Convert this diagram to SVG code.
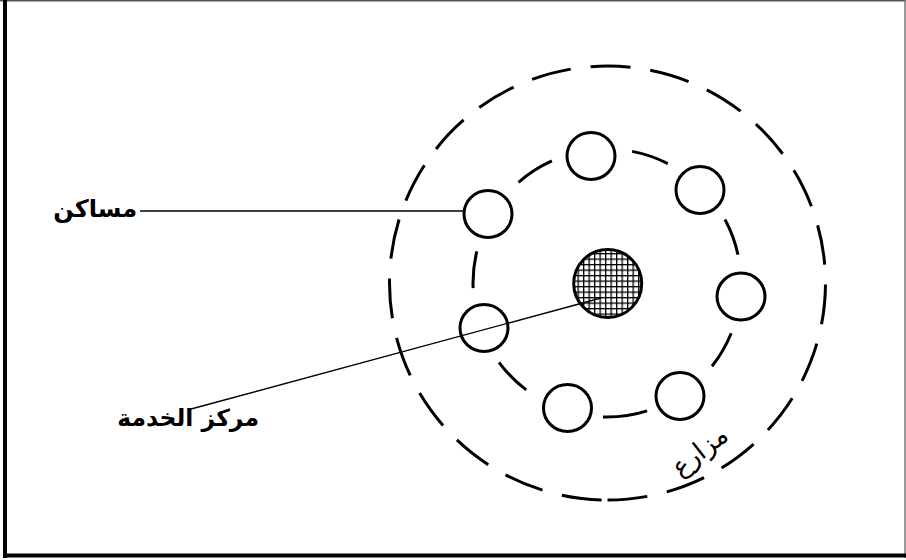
<svg xmlns="http://www.w3.org/2000/svg" width="906" height="560" viewBox="0 0 906 560">
  <style>
    .ring { fill: none; stroke: #000; stroke-width: 3; }
    .house { fill: #fff; stroke: #000; stroke-width: 3; }
    .lead { fill: none; stroke: #000; stroke-width: 1.4; }
    .lbl { font-family: "DejaVu Sans", "Noto Sans", sans-serif; fill: #000; }
  </style>
  <defs>
    <pattern id="hatch" patternUnits="userSpaceOnUse" x="0" y="0" width="5.5" height="5.5">
      <rect width="5.5" height="5.5" fill="#fff"/>
      <rect x="0" y="0" width="1.3" height="5.5" fill="#000"/>
      <rect x="0" y="0" width="5.5" height="1.3" fill="#000"/>
    </pattern>
  </defs>
  <rect width="906" height="560" fill="#fff"/>
  <g id="frame">
    <line x1="0" y1="0.8" x2="906" y2="0.8" stroke="#555" stroke-width="1.6"/>
    <line x1="905" y1="0" x2="905" y2="558" stroke="#777" stroke-width="1.5"/>
    <line x1="5" y1="0" x2="5" y2="558" stroke="#000" stroke-width="4"/>
    <line x1="3" y1="555.5" x2="906" y2="555.5" stroke="#000" stroke-width="4"/>
  </g>
  <g id="farms-ring">
    <path class="ring" stroke-dasharray="40 20" d="M607.5 500 A218 217 0 0 0 607.5 66 A218 217 0 0 0 607.5 500"/>
  </g>
  <g id="houses-ring">
    <path class="ring" d="M518.5 182.3 A134 134 0 0 1 551.9 160.9 M632.1 151.4 A134 134 0 0 1 667.8 163.6 M725 219.5 A134 134 0 0 1 738 254.7 M731.2 333.2 A134 134 0 0 1 712 366.2 M647.1 410.9 A134 134 0 0 1 603 417 M526.2 389.9 A134 134 0 0 1 499 362.3 M473.1 288.1 A134 134 0 0 1 476.8 251.3"/>
  </g>
  <g id="service-center">
    <circle cx="607.7" cy="283.5" r="34" fill="url(#hatch)" stroke="#000" stroke-width="3"/>
  </g>
  <g id="houses">
    <ellipse id="house-1" class="house" cx="591" cy="156" rx="24" ry="23.5"/>
    <ellipse id="house-2" class="house" cx="700" cy="190" rx="24" ry="23.5"/>
    <ellipse id="house-3" class="house" cx="488" cy="214" rx="24" ry="23.5"/>
    <ellipse id="house-4" class="house" cx="741" cy="296.5" rx="24" ry="23.5"/>
    <ellipse id="house-5" class="house" cx="484" cy="328" rx="24" ry="23.5"/>
    <ellipse id="house-6" class="house" cx="680" cy="396" rx="24" ry="23.5"/>
    <ellipse id="house-7" class="house" cx="567.5" cy="408" rx="24" ry="23.5"/>
  </g>
  <g id="connectors">
    <line class="lead" x1="140" y1="211" x2="464" y2="211"/>
    <line class="lead" x1="601" y1="298" x2="191" y2="409"/>
  </g>
  <g id="label-houses">
    <text class="lbl" x="137" y="217" font-size="24" font-weight="bold" text-anchor="end">مساكن</text>
  </g>
  <g id="label-center">
    <text class="lbl" x="259" y="426" font-size="23.5" font-weight="bold" text-anchor="end">مركز الخدمة</text>
  </g>
  <g id="label-farms">
    <text class="lbl" x="0" y="0" font-size="26" text-anchor="middle" transform="translate(705 458) rotate(-38)">مزارع</text>
  </g>
</svg>
